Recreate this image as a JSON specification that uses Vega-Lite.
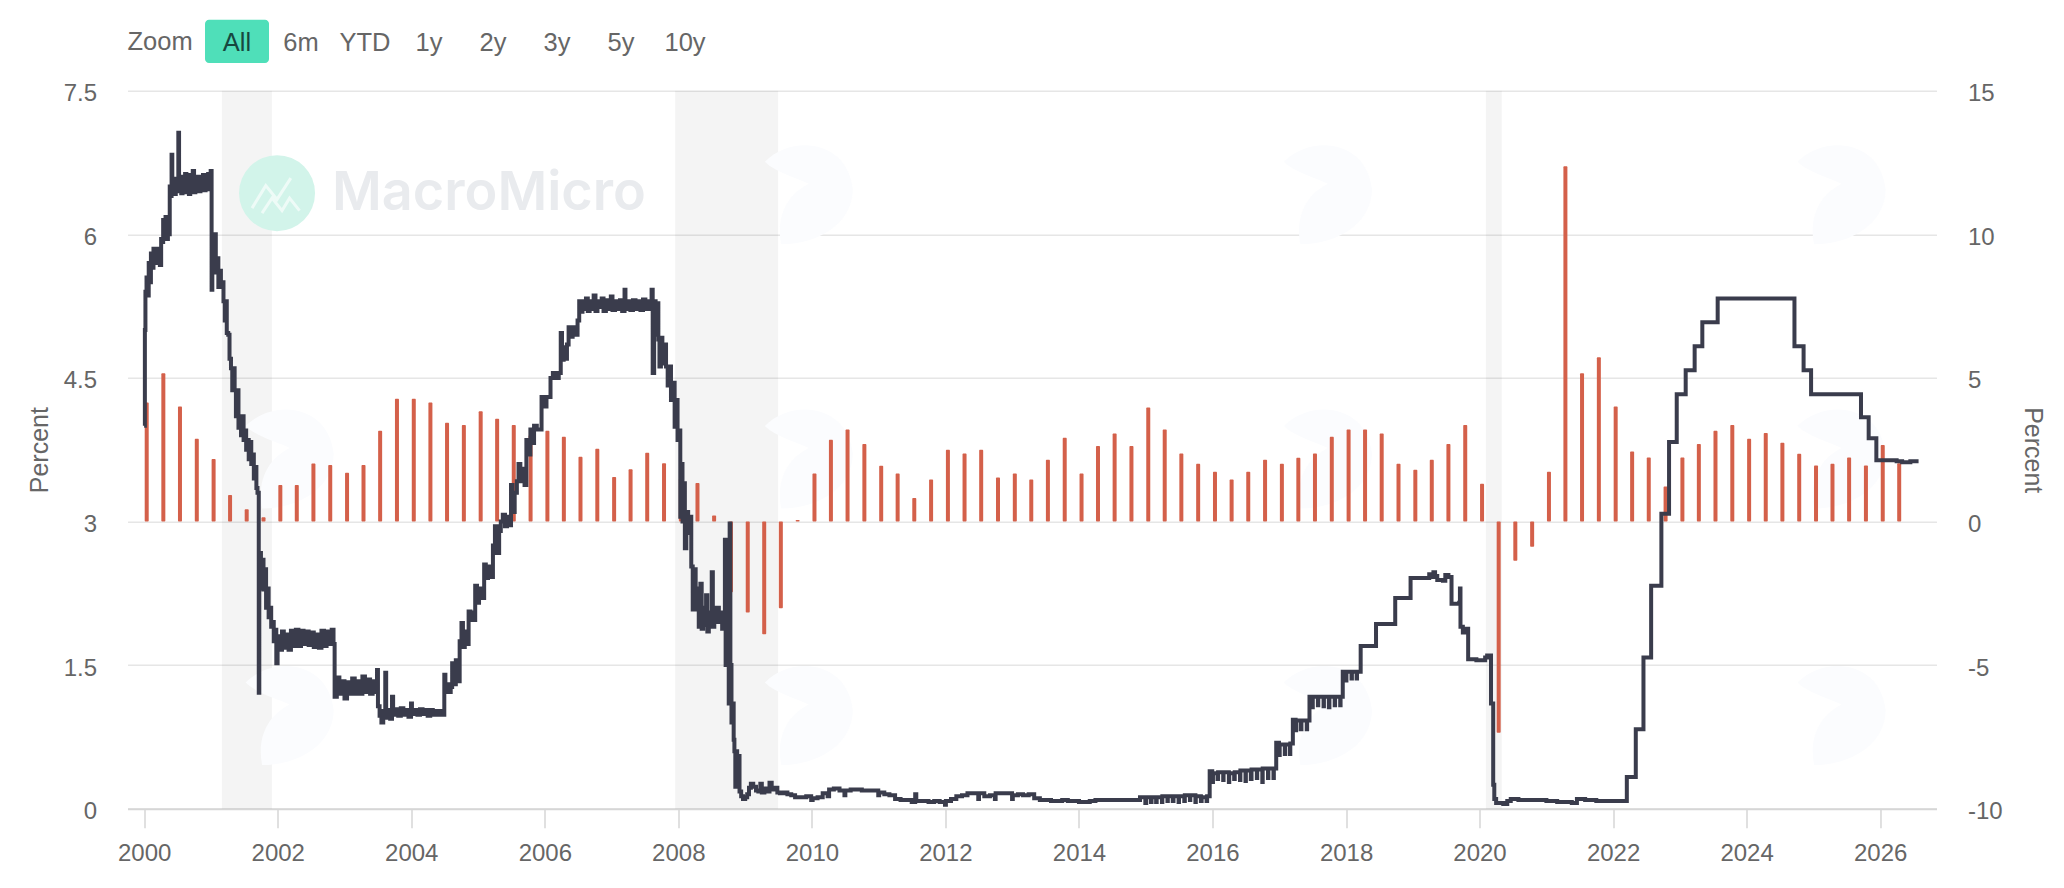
{
  "$schema": "https://vega.github.io/schema/vega-lite/v6.json",
  "width": 1809,
  "height": 718,
  "autosize": {"type": "none"},
  "padding": {"left": 127.5, "top": 90.7, "right": 127.5, "bottom": 79},
  "background": "white",
  "title": {"text": "Zoom", "anchor": "start", "frame": "group", "offset": -36, "fontSize": 25.5, "fontWeight": "normal", "font": "Liberation Sans", "color": "#666666"},
  "config": {"view": {"stroke": null}, "font": "Liberation Sans"},
  "datasets": {
    "recessions": [
      {"start": "2001-03-01", "end": "2001-11-30"},
      {"start": "2007-12-15", "end": "2009-06-30"},
      {"start": "2020-02-05", "end": "2020-05-02"}
    ],
    "blobs": [
      {"d": "2009-11-15", "v": 6.47}, {"d": "2017-08-25", "v": 6.47}, {"d": "2025-05-05", "v": 6.47},
      {"d": "2002-02-05", "v": 3.71}, {"d": "2009-11-15", "v": 3.71}, {"d": "2017-08-25", "v": 3.71}, {"d": "2025-05-05", "v": 3.71},
      {"d": "2002-02-05", "v": 1.03}, {"d": "2009-11-15", "v": 1.03}, {"d": "2017-08-25", "v": 1.03}, {"d": "2025-05-05", "v": 1.03}
    ],
    "logo": [{"d": "2001-12-28", "v": 6.43, "name": "MacroMicro"}],
    "wordmark": [{"d": "2002-10-25", "v": 6.42, "name": "MacroMicro"}],
    "ranges": [
      {"label": "All", "selected": true}, {"label": "6m", "selected": false}, {"label": "YTD", "selected": false},
      {"label": "1y", "selected": false}, {"label": "2y", "selected": false}, {"label": "3y", "selected": false},
      {"label": "5y", "selected": false}, {"label": "10y", "selected": false}
    ],
    "growth": [
      {"q":"2000-01-15","g":4.14},{"q":"2000-04-15","g":5.16},{"q":"2000-07-15","g":4.0},{"q":"2000-10-15","g":2.88},
      {"q":"2001-01-15","g":2.18},{"q":"2001-04-15","g":0.92},{"q":"2001-07-15","g":0.43},{"q":"2001-10-15","g":0.15},
      {"q":"2002-01-15","g":1.27},{"q":"2002-04-15","g":1.27},{"q":"2002-07-15","g":2.02},{"q":"2002-10-15","g":1.97},
      {"q":"2003-01-15","g":1.7},{"q":"2003-04-15","g":1.97},{"q":"2003-07-15","g":3.16},{"q":"2003-10-15","g":4.27},
      {"q":"2004-01-15","g":4.27},{"q":"2004-04-15","g":4.14},{"q":"2004-07-15","g":3.44},{"q":"2004-10-15","g":3.36},
      {"q":"2005-01-15","g":3.84},{"q":"2005-04-15","g":3.58},{"q":"2005-07-15","g":3.36},{"q":"2005-10-15","g":3.0},
      {"q":"2006-01-15","g":3.16},{"q":"2006-04-15","g":2.95},{"q":"2006-07-15","g":2.25},{"q":"2006-10-15","g":2.53},
      {"q":"2007-01-15","g":1.55},{"q":"2007-04-15","g":1.82},{"q":"2007-07-15","g":2.39},{"q":"2007-10-15","g":2.03},
      {"q":"2008-01-15","g":1.5},{"q":"2008-04-15","g":1.34},{"q":"2008-07-15","g":0.21},{"q":"2008-10-15","g":-2.46},
      {"q":"2009-01-15","g":-3.17},{"q":"2009-04-15","g":-3.93},{"q":"2009-07-15","g":-3.02},{"q":"2009-10-15","g":0.05},
      {"q":"2010-01-15","g":1.67},{"q":"2010-04-15","g":2.85},{"q":"2010-07-15","g":3.2},{"q":"2010-10-15","g":2.7},
      {"q":"2011-01-15","g":1.94},{"q":"2011-04-15","g":1.67},{"q":"2011-07-15","g":0.82},{"q":"2011-10-15","g":1.46},
      {"q":"2012-01-15","g":2.5},{"q":"2012-04-15","g":2.37},{"q":"2012-07-15","g":2.5},{"q":"2012-10-15","g":1.53},
      {"q":"2013-01-15","g":1.67},{"q":"2013-04-15","g":1.46},{"q":"2013-07-15","g":2.15},{"q":"2013-10-15","g":2.92},
      {"q":"2014-01-15","g":1.67},{"q":"2014-04-15","g":2.63},{"q":"2014-07-15","g":3.06},{"q":"2014-10-15","g":2.63},
      {"q":"2015-01-15","g":3.97},{"q":"2015-04-15","g":3.2},{"q":"2015-07-15","g":2.37},{"q":"2015-10-15","g":2.01},
      {"q":"2016-01-15","g":1.73},{"q":"2016-04-15","g":1.46},{"q":"2016-07-15","g":1.73},{"q":"2016-10-15","g":2.15},
      {"q":"2017-01-15","g":2.01},{"q":"2017-04-15","g":2.22},{"q":"2017-07-15","g":2.37},{"q":"2017-10-15","g":2.95},
      {"q":"2018-01-15","g":3.2},{"q":"2018-04-15","g":3.2},{"q":"2018-07-15","g":3.06},{"q":"2018-10-15","g":2.01},
      {"q":"2019-01-15","g":1.8},{"q":"2019-04-15","g":2.15},{"q":"2019-07-15","g":2.7},{"q":"2019-10-15","g":3.36},
      {"q":"2020-01-15","g":1.31},{"q":"2020-04-15","g":-7.36},{"q":"2020-07-15","g":-1.37},{"q":"2020-10-15","g":-0.88},
      {"q":"2021-01-15","g":1.73},{"q":"2021-04-15","g":12.37},{"q":"2021-07-15","g":5.16},{"q":"2021-10-15","g":5.72},
      {"q":"2022-01-15","g":4.0},{"q":"2022-04-15","g":2.44},{"q":"2022-07-15","g":2.23},{"q":"2022-10-15","g":1.22},
      {"q":"2023-01-15","g":2.23},{"q":"2023-04-15","g":2.7},{"q":"2023-07-15","g":3.16},{"q":"2023-10-15","g":3.36},
      {"q":"2024-01-15","g":2.88},{"q":"2024-04-15","g":3.08},{"q":"2024-07-15","g":2.74},{"q":"2024-10-15","g":2.36},
      {"q":"2025-01-15","g":1.95},{"q":"2025-04-15","g":2.01},{"q":"2025-07-15","g":2.23},{"q":"2025-10-15","g":1.95},
      {"q":"2026-01-15","g":2.66},{"q":"2026-04-15","g":2.03}
    ],
    "rate": [
      {"d":"2000-01-01","r":4.0},{"d":"2000-01-05","r":5.0},{"d":"2000-01-08","r":5.4},{"d":"2000-01-14","r":5.55},{"d":"2000-01-20","r":5.36},{"d":"2000-01-26","r":5.7},
      {"d":"2000-02-01","r":5.5},{"d":"2000-02-07","r":5.8},{"d":"2000-02-14","r":5.65},{"d":"2000-02-21","r":5.85},{"d":"2000-02-28","r":5.7},{"d":"2000-03-06","r":5.85},{"d":"2000-03-13","r":5.72},{"d":"2000-03-20","r":5.8},{"d":"2000-03-27","r":5.68},
      {"d":"2000-04-03","r":5.95},{"d":"2000-04-08","r":5.92},{"d":"2000-04-14","r":6.15},{"d":"2000-04-20","r":5.95},{"d":"2000-04-27","r":6.18},{"d":"2000-05-04","r":5.95},{"d":"2000-05-10","r":6.15},{"d":"2000-05-14","r":6.0},
      {"d":"2000-05-20","r":6.5},{"d":"2000-05-25","r":6.4},{"d":"2000-05-30","r":6.83},{"d":"2000-06-03","r":6.45},{"d":"2000-06-10","r":6.55},{"d":"2000-06-15","r":6.42},{"d":"2000-06-22","r":6.58},{"d":"2000-06-28","r":6.45},
      {"d":"2000-07-06","r":7.06},{"d":"2000-07-10","r":6.45},{"d":"2000-07-16","r":6.58},{"d":"2000-07-22","r":6.43},{"d":"2000-07-29","r":6.6},{"d":"2000-08-05","r":6.44},{"d":"2000-08-12","r":6.63},{"d":"2000-08-19","r":6.46},{"d":"2000-08-26","r":6.57},
      {"d":"2000-09-02","r":6.42},{"d":"2000-09-09","r":6.62},{"d":"2000-09-16","r":6.45},{"d":"2000-09-23","r":6.66},{"d":"2000-09-30","r":6.44},{"d":"2000-10-07","r":6.56},{"d":"2000-10-14","r":6.47},{"d":"2000-10-21","r":6.6},{"d":"2000-10-28","r":6.45},
      {"d":"2000-11-04","r":6.58},{"d":"2000-11-11","r":6.48},{"d":"2000-11-18","r":6.62},{"d":"2000-11-25","r":6.46},{"d":"2000-12-02","r":6.55},{"d":"2000-12-09","r":6.48},{"d":"2000-12-16","r":6.63},{"d":"2000-12-23","r":6.47},{"d":"2000-12-30","r":6.66},
      {"d":"2001-01-04","r":5.42},{"d":"2001-01-08","r":6.0},{"d":"2001-01-14","r":5.75},{"d":"2001-01-20","r":6.0},{"d":"2001-01-27","r":5.6},{"d":"2001-02-03","r":5.75},{"d":"2001-02-10","r":5.45},{"d":"2001-02-17","r":5.62},{"d":"2001-02-24","r":5.45},
      {"d":"2001-03-03","r":5.5},{"d":"2001-03-10","r":5.3},{"d":"2001-03-17","r":5.1},{"d":"2001-03-24","r":5.3},{"d":"2001-03-28","r":4.97},{"d":"2001-04-05","r":4.95},{"d":"2001-04-12","r":4.7},{"d":"2001-04-20","r":4.6},{"d":"2001-04-27","r":4.37},
      {"d":"2001-05-03","r":4.6},{"d":"2001-05-10","r":4.37},{"d":"2001-05-17","r":4.1},{"d":"2001-05-24","r":4.37},{"d":"2001-05-31","r":3.98},{"d":"2001-06-07","r":4.1},{"d":"2001-06-14","r":3.9},{"d":"2001-06-21","r":4.1},{"d":"2001-06-28","r":3.85},
      {"d":"2001-07-05","r":3.95},{"d":"2001-07-12","r":3.75},{"d":"2001-07-19","r":3.85},{"d":"2001-07-26","r":3.65},{"d":"2001-08-02","r":3.83},{"d":"2001-08-09","r":3.6},{"d":"2001-08-16","r":3.7},{"d":"2001-08-23","r":3.45},{"d":"2001-08-30","r":3.57},
      {"d":"2001-09-06","r":3.35},{"d":"2001-09-12","r":3.3},{"d":"2001-09-19","r":1.21},{"d":"2001-09-22","r":2.67},{"d":"2001-10-01","r":2.3},{"d":"2001-10-08","r":2.6},{"d":"2001-10-15","r":2.29},{"d":"2001-10-22","r":2.5},{"d":"2001-10-29","r":2.1},
      {"d":"2001-11-05","r":2.3},{"d":"2001-11-12","r":2.0},{"d":"2001-11-19","r":2.1},{"d":"2001-11-26","r":1.9},{"d":"2001-12-03","r":1.95},{"d":"2001-12-10","r":1.75},{"d":"2001-12-17","r":1.87},{"d":"2001-12-24","r":1.52},{"d":"2001-12-31","r":1.8},
      {"d":"2002-01-10","r":1.66},{"d":"2002-01-24","r":1.85},{"d":"2002-02-03","r":1.68},{"d":"2002-02-17","r":1.82},{"d":"2002-03-01","r":1.66},{"d":"2002-03-14","r":1.86},{"d":"2002-03-28","r":1.7},{"d":"2002-04-10","r":1.87},{"d":"2002-04-24","r":1.7},
      {"d":"2002-05-08","r":1.86},{"d":"2002-05-22","r":1.72},{"d":"2002-06-05","r":1.85},{"d":"2002-06-19","r":1.71},{"d":"2002-07-03","r":1.84},{"d":"2002-07-17","r":1.69},{"d":"2002-07-31","r":1.82},{"d":"2002-08-14","r":1.68},{"d":"2002-08-28","r":1.86},
      {"d":"2002-09-11","r":1.7},{"d":"2002-09-25","r":1.85},{"d":"2002-10-09","r":1.72},{"d":"2002-10-23","r":1.87},{"d":"2002-11-02","r":1.72},
      {"d":"2002-11-08","r":1.17},{"d":"2002-11-20","r":1.37},{"d":"2002-12-04","r":1.2},{"d":"2002-12-18","r":1.33},{"d":"2003-01-01","r":1.15},{"d":"2003-01-15","r":1.32},{"d":"2003-01-29","r":1.2},{"d":"2003-02-12","r":1.36},{"d":"2003-02-26","r":1.2},
      {"d":"2003-03-12","r":1.33},{"d":"2003-03-26","r":1.2},{"d":"2003-04-09","r":1.38},{"d":"2003-04-23","r":1.22},{"d":"2003-05-07","r":1.35},{"d":"2003-05-21","r":1.2},{"d":"2003-06-04","r":1.33},{"d":"2003-06-18","r":1.22},{"d":"2003-06-28","r":1.45},
      {"d":"2003-07-03","r":1.07},{"d":"2003-07-12","r":0.97},{"d":"2003-07-22","r":0.9},{"d":"2003-08-01","r":1.02},{"d":"2003-08-12","r":1.42},{"d":"2003-08-17","r":0.95},{"d":"2003-08-28","r":1.03},{"d":"2003-09-08","r":0.94},{"d":"2003-09-18","r":1.17},{"d":"2003-09-24","r":0.98},
      {"d":"2003-10-08","r":1.04},{"d":"2003-10-22","r":0.97},{"d":"2003-11-05","r":1.05},{"d":"2003-11-19","r":0.98},{"d":"2003-12-03","r":1.03},{"d":"2003-12-17","r":0.96},{"d":"2003-12-31","r":1.1},{"d":"2004-01-05","r":0.99},{"d":"2004-01-20","r":1.03},
      {"d":"2004-02-04","r":0.98},{"d":"2004-02-18","r":1.04},{"d":"2004-03-03","r":0.99},{"d":"2004-03-17","r":1.03},{"d":"2004-03-31","r":0.97},{"d":"2004-04-14","r":1.03},{"d":"2004-04-28","r":0.98},{"d":"2004-05-12","r":1.02},{"d":"2004-05-26","r":0.98},{"d":"2004-06-09","r":1.02},{"d":"2004-06-23","r":0.98},
      {"d":"2004-06-30","r":1.4},{"d":"2004-07-06","r":1.22},{"d":"2004-07-15","r":1.3},{"d":"2004-07-28","r":1.22},{"d":"2004-08-04","r":1.27},{"d":"2004-08-12","r":1.52},{"d":"2004-08-22","r":1.3},{"d":"2004-09-01","r":1.55},{"d":"2004-09-12","r":1.33},{"d":"2004-09-22","r":1.75},
      {"d":"2004-10-02","r":1.94},{"d":"2004-10-10","r":1.69},{"d":"2004-10-20","r":1.85},{"d":"2004-10-30","r":1.72},{"d":"2004-11-10","r":2.06},{"d":"2004-11-20","r":1.97},{"d":"2004-12-01","r":2.05},{"d":"2004-12-08","r":1.97},{"d":"2004-12-16","r":2.33},{"d":"2004-12-26","r":2.15},
      {"d":"2005-01-06","r":2.3},{"d":"2005-01-18","r":2.2},{"d":"2005-02-03","r":2.55},{"d":"2005-02-12","r":2.41},{"d":"2005-02-24","r":2.53},{"d":"2005-03-05","r":2.42},{"d":"2005-03-23","r":2.75},{"d":"2005-04-03","r":2.95},{"d":"2005-04-14","r":2.67},{"d":"2005-04-26","r":2.9},
      {"d":"2005-05-05","r":3.0},{"d":"2005-05-16","r":3.07},{"d":"2005-05-28","r":2.95},{"d":"2005-06-08","r":3.05},{"d":"2005-06-20","r":2.96},{"d":"2005-06-30","r":3.38},{"d":"2005-07-08","r":3.1},{"d":"2005-07-20","r":3.3},{"d":"2005-08-01","r":3.42},{"d":"2005-08-10","r":3.6},{"d":"2005-08-20","r":3.42},
      {"d":"2005-09-01","r":3.55},{"d":"2005-09-12","r":3.38},{"d":"2005-09-22","r":3.85},{"d":"2005-10-02","r":3.7},{"d":"2005-10-14","r":3.96},{"d":"2005-10-25","r":3.82},{"d":"2005-11-03","r":4.0},{"d":"2005-11-18","r":3.96},{"d":"2005-12-14","r":4.3},{"d":"2005-12-30","r":4.2},
      {"d":"2006-01-10","r":4.3},{"d":"2006-02-01","r":4.5},{"d":"2006-02-14","r":4.55},{"d":"2006-03-01","r":4.5},{"d":"2006-03-18","r":4.55},{"d":"2006-03-29","r":4.97},{"d":"2006-04-05","r":4.69},{"d":"2006-04-14","r":4.82},{"d":"2006-04-24","r":4.7},{"d":"2006-05-02","r":4.85},
      {"d":"2006-05-11","r":5.03},{"d":"2006-05-22","r":4.93},{"d":"2006-06-02","r":5.03},{"d":"2006-06-14","r":4.95},{"d":"2006-06-29","r":5.1},{"d":"2006-07-08","r":5.3},{"d":"2006-07-16","r":5.19},{"d":"2006-07-26","r":5.3},{"d":"2006-08-04","r":5.22},{"d":"2006-08-14","r":5.33},{"d":"2006-08-24","r":5.2},
      {"d":"2006-09-03","r":5.3},{"d":"2006-09-14","r":5.22},{"d":"2006-09-25","r":5.36},{"d":"2006-10-05","r":5.2},{"d":"2006-10-16","r":5.3},{"d":"2006-10-27","r":5.24},{"d":"2006-11-08","r":5.33},{"d":"2006-11-18","r":5.2},{"d":"2006-12-01","r":5.31},{"d":"2006-12-12","r":5.22},{"d":"2006-12-28","r":5.35},
      {"d":"2007-01-06","r":5.21},{"d":"2007-01-20","r":5.3},{"d":"2007-02-02","r":5.22},{"d":"2007-02-16","r":5.31},{"d":"2007-02-28","r":5.2},{"d":"2007-03-13","r":5.42},{"d":"2007-03-18","r":5.22},{"d":"2007-04-01","r":5.3},{"d":"2007-04-14","r":5.21},{"d":"2007-04-28","r":5.31},
      {"d":"2007-05-12","r":5.22},{"d":"2007-05-26","r":5.3},{"d":"2007-06-08","r":5.21},{"d":"2007-06-22","r":5.32},{"d":"2007-07-05","r":5.22},{"d":"2007-07-19","r":5.3},{"d":"2007-08-01","r":5.22},{"d":"2007-08-08","r":5.42},
      {"d":"2007-08-14","r":4.55},{"d":"2007-08-22","r":5.3},{"d":"2007-08-30","r":4.95},{"d":"2007-09-07","r":5.28},{"d":"2007-09-14","r":4.9},{"d":"2007-09-20","r":4.62},{"d":"2007-09-28","r":4.92},{"d":"2007-10-06","r":4.65},{"d":"2007-10-16","r":4.85},{"d":"2007-10-26","r":4.62},
      {"d":"2007-11-04","r":4.42},{"d":"2007-11-12","r":4.62},{"d":"2007-11-22","r":4.27},{"d":"2007-12-02","r":4.45},{"d":"2007-12-12","r":3.99},{"d":"2007-12-20","r":4.27},{"d":"2007-12-28","r":3.85},
      {"d":"2008-01-05","r":3.95},{"d":"2008-01-12","r":3.05},{"d":"2008-01-18","r":3.6},{"d":"2008-01-24","r":3.0},{"d":"2008-01-31","r":3.4},{"d":"2008-02-06","r":2.72},{"d":"2008-02-14","r":3.1},{"d":"2008-02-24","r":2.88},{"d":"2008-03-03","r":3.05},{"d":"2008-03-12","r":2.53},
      {"d":"2008-03-20","r":2.08},{"d":"2008-03-28","r":2.5},{"d":"2008-04-05","r":2.08},{"d":"2008-04-13","r":2.3},{"d":"2008-04-22","r":1.9},{"d":"2008-05-01","r":2.35},{"d":"2008-05-08","r":1.88},{"d":"2008-05-16","r":2.1},{"d":"2008-05-24","r":1.92},{"d":"2008-06-01","r":2.23},{"d":"2008-06-08","r":1.85},{"d":"2008-06-16","r":2.05},
      {"d":"2008-06-24","r":1.9},{"d":"2008-07-02","r":2.47},{"d":"2008-07-08","r":1.9},{"d":"2008-07-16","r":2.1},{"d":"2008-07-24","r":1.95},{"d":"2008-08-01","r":2.1},{"d":"2008-08-10","r":1.95},{"d":"2008-08-20","r":2.05},{"d":"2008-08-28","r":1.88},
      {"d":"2008-09-05","r":2.05},{"d":"2008-09-12","r":2.81},{"d":"2008-09-16","r":1.5},{"d":"2008-09-22","r":2.2},{"d":"2008-09-28","r":2.0},{"d":"2008-10-03","r":1.1},{"d":"2008-10-08","r":2.98},{"d":"2008-10-12","r":1.5},{"d":"2008-10-18","r":0.9},{"d":"2008-10-24","r":1.1},{"d":"2008-10-30","r":0.72},
      {"d":"2008-11-03","r":0.6},{"d":"2008-11-08","r":0.23},{"d":"2008-11-12","r":0.6},{"d":"2008-11-18","r":0.25},{"d":"2008-11-24","r":0.55},{"d":"2008-12-01","r":0.18},{"d":"2008-12-10","r":0.13},{"d":"2008-12-20","r":0.1},{"d":"2009-01-01","r":0.12},{"d":"2009-01-12","r":0.15},
      {"d":"2009-01-22","r":0.22},{"d":"2009-02-01","r":0.26},{"d":"2009-02-14","r":0.23},{"d":"2009-03-01","r":0.19},{"d":"2009-03-14","r":0.18},{"d":"2009-03-25","r":0.26},{"d":"2009-04-02","r":0.17},{"d":"2009-04-16","r":0.21},{"d":"2009-05-01","r":0.18},{"d":"2009-05-14","r":0.27},{"d":"2009-05-26","r":0.2},{"d":"2009-06-10","r":0.22},{"d":"2009-06-26","r":0.17},
      {"d":"2009-07-10","r":0.16},{"d":"2009-08-01","r":0.17},{"d":"2009-08-20","r":0.15},{"d":"2009-09-10","r":0.14},{"d":"2009-10-01","r":0.12},{"d":"2009-11-01","r":0.12},{"d":"2009-12-01","r":0.13},{"d":"2009-12-28","r":0.09},
      {"d":"2010-01-05","r":0.11},{"d":"2010-02-01","r":0.12},{"d":"2010-03-01","r":0.16},{"d":"2010-03-28","r":0.13},{"d":"2010-04-05","r":0.2},{"d":"2010-05-01","r":0.21},{"d":"2010-06-01","r":0.19},{"d":"2010-06-28","r":0.14},{"d":"2010-07-03","r":0.19},{"d":"2010-08-01","r":0.2},{"d":"2010-09-01","r":0.2},{"d":"2010-10-01","r":0.19},{"d":"2010-11-01","r":0.19},{"d":"2010-12-01","r":0.19},{"d":"2010-12-30","r":0.14},
      {"d":"2011-01-04","r":0.17},{"d":"2011-02-01","r":0.15},{"d":"2011-03-01","r":0.14},{"d":"2011-04-01","r":0.1},{"d":"2011-05-01","r":0.09},{"d":"2011-06-01","r":0.09},{"d":"2011-07-01","r":0.07},{"d":"2011-07-20","r":0.15},{"d":"2011-07-26","r":0.08},{"d":"2011-09-01","r":0.08},{"d":"2011-10-01","r":0.07},{"d":"2011-11-01","r":0.08},{"d":"2011-12-01","r":0.07},{"d":"2011-12-30","r":0.04},
      {"d":"2012-01-04","r":0.08},{"d":"2012-02-01","r":0.1},{"d":"2012-03-01","r":0.13},{"d":"2012-04-01","r":0.14},{"d":"2012-05-01","r":0.16},{"d":"2012-06-01","r":0.16},{"d":"2012-06-29","r":0.1},{"d":"2012-07-03","r":0.16},{"d":"2012-08-01","r":0.13},{"d":"2012-09-01","r":0.14},{"d":"2012-09-28","r":0.1},{"d":"2012-10-02","r":0.16},{"d":"2012-11-01","r":0.16},{"d":"2012-12-01","r":0.16},{"d":"2012-12-31","r":0.1},
      {"d":"2013-01-04","r":0.14},{"d":"2013-02-01","r":0.15},{"d":"2013-03-01","r":0.14},{"d":"2013-04-01","r":0.15},{"d":"2013-05-01","r":0.11},{"d":"2013-06-01","r":0.09},{"d":"2013-07-01","r":0.09},{"d":"2013-08-01","r":0.08},{"d":"2013-09-01","r":0.08},{"d":"2013-10-01","r":0.09},{"d":"2013-11-01","r":0.08},{"d":"2013-12-01","r":0.08},
      {"d":"2014-01-01","r":0.07},{"d":"2014-02-01","r":0.07},{"d":"2014-03-01","r":0.08},{"d":"2014-04-01","r":0.09},{"d":"2014-05-01","r":0.09},{"d":"2014-06-01","r":0.09},{"d":"2014-07-01","r":0.09},{"d":"2014-08-01","r":0.09},{"d":"2014-09-01","r":0.09},{"d":"2014-10-01","r":0.09},{"d":"2014-11-01","r":0.09},{"d":"2014-12-01","r":0.12},{"d":"2014-12-30","r":0.06},
      {"d":"2015-01-04","r":0.12},{"d":"2015-01-30","r":0.07},{"d":"2015-02-02","r":0.12},{"d":"2015-02-27","r":0.07},{"d":"2015-03-02","r":0.12},{"d":"2015-03-31","r":0.07},{"d":"2015-04-02","r":0.13},{"d":"2015-04-30","r":0.08},{"d":"2015-05-02","r":0.13},{"d":"2015-05-29","r":0.08},{"d":"2015-06-02","r":0.13},{"d":"2015-06-30","r":0.07},{"d":"2015-07-02","r":0.13},{"d":"2015-07-31","r":0.08},{"d":"2015-08-03","r":0.14},{"d":"2015-08-31","r":0.09},{"d":"2015-09-02","r":0.14},{"d":"2015-09-30","r":0.07},{"d":"2015-10-02","r":0.13},{"d":"2015-10-30","r":0.08},{"d":"2015-11-03","r":0.12},{"d":"2015-11-30","r":0.08},{"d":"2015-12-03","r":0.13},
      {"d":"2015-12-17","r":0.39},{"d":"2015-12-31","r":0.28},{"d":"2016-01-04","r":0.37},{"d":"2016-01-29","r":0.31},{"d":"2016-02-01","r":0.38},{"d":"2016-02-29","r":0.3},{"d":"2016-03-02","r":0.38},{"d":"2016-03-31","r":0.28},{"d":"2016-04-02","r":0.37},{"d":"2016-04-29","r":0.31},{"d":"2016-05-02","r":0.38},{"d":"2016-05-31","r":0.3},{"d":"2016-06-02","r":0.4},{"d":"2016-06-30","r":0.29},{"d":"2016-07-02","r":0.4},{"d":"2016-07-29","r":0.31},{"d":"2016-08-02","r":0.41},{"d":"2016-08-31","r":0.32},{"d":"2016-09-02","r":0.41},{"d":"2016-09-30","r":0.28},{"d":"2016-10-02","r":0.42},{"d":"2016-10-31","r":0.32},{"d":"2016-11-02","r":0.42},{"d":"2016-11-30","r":0.32},{"d":"2016-12-02","r":0.42},
      {"d":"2016-12-15","r":0.69},{"d":"2016-12-30","r":0.56},{"d":"2017-01-03","r":0.67},{"d":"2017-01-31","r":0.57},{"d":"2017-02-02","r":0.67},{"d":"2017-02-28","r":0.57},{"d":"2017-03-02","r":0.68},
      {"d":"2017-03-16","r":0.93},{"d":"2017-03-31","r":0.82},{"d":"2017-04-03","r":0.92},{"d":"2017-04-28","r":0.83},{"d":"2017-05-02","r":0.92},{"d":"2017-05-31","r":0.83},{"d":"2017-06-02","r":0.92},
      {"d":"2017-06-15","r":1.17},{"d":"2017-06-30","r":1.06},{"d":"2017-07-03","r":1.17},{"d":"2017-07-31","r":1.08},{"d":"2017-08-02","r":1.17},{"d":"2017-08-31","r":1.07},{"d":"2017-09-02","r":1.17},{"d":"2017-09-29","r":1.06},{"d":"2017-10-02","r":1.17},{"d":"2017-10-31","r":1.08},{"d":"2017-11-02","r":1.17},{"d":"2017-11-30","r":1.08},{"d":"2017-12-02","r":1.17},
      {"d":"2017-12-14","r":1.43},{"d":"2017-12-29","r":1.34},{"d":"2018-01-03","r":1.43},{"d":"2018-01-31","r":1.36},{"d":"2018-02-02","r":1.43},{"d":"2018-02-28","r":1.36},{"d":"2018-03-02","r":1.43},
      {"d":"2018-03-22","r":1.7},{"d":"2018-06-14","r":1.93},{"d":"2018-09-27","r":2.2},{"d":"2018-12-20","r":2.41},
      {"d":"2019-02-01","r":2.41},{"d":"2019-03-15","r":2.41},{"d":"2019-04-01","r":2.45},{"d":"2019-04-12","r":2.42},{"d":"2019-04-24","r":2.47},{"d":"2019-05-03","r":2.43},{"d":"2019-05-15","r":2.39},{"d":"2019-06-01","r":2.39},{"d":"2019-06-15","r":2.38},{"d":"2019-06-28","r":2.44},{"d":"2019-07-15","r":2.42},
      {"d":"2019-08-01","r":2.14},{"d":"2019-09-12","r":2.15},{"d":"2019-09-16","r":2.3},{"d":"2019-09-19","r":1.9},{"d":"2019-10-02","r":1.84},{"d":"2019-10-12","r":1.88},{"d":"2019-10-31","r":1.56},{"d":"2019-12-15","r":1.55},{"d":"2020-01-15","r":1.55},{"d":"2020-02-01","r":1.58},{"d":"2020-02-12","r":1.6},
      {"d":"2020-03-04","r":1.1},{"d":"2020-03-16","r":0.25},{"d":"2020-03-22","r":0.1},{"d":"2020-04-01","r":0.06},{"d":"2020-05-10","r":0.05},{"d":"2020-06-01","r":0.08},{"d":"2020-06-20","r":0.1},{"d":"2020-08-01","r":0.09},{"d":"2020-10-01","r":0.09},{"d":"2020-11-15","r":0.09},
      {"d":"2021-01-01","r":0.08},{"d":"2021-03-01","r":0.07},{"d":"2021-05-20","r":0.06},{"d":"2021-06-17","r":0.1},{"d":"2021-08-01","r":0.09},{"d":"2021-10-01","r":0.08},{"d":"2022-01-01","r":0.08},
      {"d":"2022-03-17","r":0.33},{"d":"2022-05-05","r":0.83},{"d":"2022-06-16","r":1.58},{"d":"2022-07-28","r":2.33},{"d":"2022-09-22","r":3.08},{"d":"2022-11-03","r":3.83},{"d":"2022-12-15","r":4.33},
      {"d":"2023-02-02","r":4.58},{"d":"2023-03-23","r":4.83},{"d":"2023-05-04","r":5.08},{"d":"2023-07-27","r":5.33},{"d":"2024-09-19","r":4.83},{"d":"2024-11-08","r":4.58},{"d":"2024-12-19","r":4.33},
      {"d":"2025-09-18","r":4.09},{"d":"2025-10-30","r":3.87},{"d":"2025-12-11","r":3.64},{"d":"2026-04-01","r":3.63},{"d":"2026-05-01","r":3.62},{"d":"2026-06-15","r":3.63},{"d":"2026-07-30","r":3.63}
    ]
  },
  "layer": [
    {
      "data": {"name": "recessions"},
      "mark": {"type": "rect", "color": "#000000", "opacity": 0.045},
      "encoding": {
        "x": {"field": "start", "type": "temporal", "axis": null, "scale": {"type": "utc", "domain": ["1999-10-02", "2026-11-05"]}},
        "x2": {"field": "end"}
      }
    },
    {
      "data": {"name": "blobs"},
      "mark": {"type": "point", "filled": true, "opacity": 1, "color": "#fbfcfe", "size": 12100, "shape": "M-0.7,-0.5 C-0.2,-1 0.8,-0.9 0.9,0 C0.9,0.6 0.3,1 -0.4,1 C-0.5,0.5 -0.3,0.1 0.1,-0.1 C-0.1,-0.2 -0.5,-0.3 -0.7,-0.5 Z"},
      "encoding": {
        "x": {"field": "d", "type": "temporal", "axis": null, "scale": {"type": "utc", "domain": ["1999-10-02", "2026-11-05"]}},
        "y": {"field": "v", "type": "quantitative", "axis": null, "scale": {"domain": [0, 7.5]}}
      }
    },
    {
      "data": {"name": "logo"},
      "mark": {"type": "point", "filled": true, "opacity": 1, "color": "#d2f4ea", "size": 5776, "shape": "circle"},
      "encoding": {
        "x": {"field": "d", "type": "temporal", "axis": null, "scale": {"type": "utc", "domain": ["1999-10-02", "2026-11-05"]}},
        "y": {"field": "v", "type": "quantitative", "axis": null, "scale": {"domain": [0, 7.5]}}
      }
    },
    {
      "data": {"name": "logo"},
      "mark": {"type": "point", "filled": false, "opacity": 1, "stroke": "#eefbf7", "strokeWidth": 3, "size": 2500, "shape": "M-1,0.6 L-0.45,-0.3 L0,0.25 L0.55,-0.6 M-0.6,0.8 L-0.2,0.2 L0.2,0.7 L0.5,0.2 L0.9,0.7"},
      "encoding": {
        "x": {"field": "d", "type": "temporal", "axis": null, "scale": {"type": "utc", "domain": ["1999-10-02", "2026-11-05"]}},
        "y": {"field": "v", "type": "quantitative", "axis": null, "scale": {"domain": [0, 7.5]}}
      }
    },
    {
      "data": {"name": "wordmark"},
      "mark": {"type": "text", "align": "left", "baseline": "middle", "font": "Inter", "fontSize": 54, "fontWeight": 600, "color": "#e9ebee"},
      "encoding": {
        "x": {"field": "d", "type": "temporal", "axis": null, "scale": {"type": "utc", "domain": ["1999-10-02", "2026-11-05"]}},
        "y": {"field": "v", "type": "quantitative", "axis": null, "scale": {"domain": [0, 7.5]}},
        "text": {"field": "name"}
      }
    },
    {
      "data": {"name": "growth"},
      "mark": {"type": "bar", "size": 4, "color": "#d4604a", "cornerRadius": 1},
      "encoding": {
        "x": {"field": "q", "type": "temporal", "axis": null, "scale": {"type": "utc", "domain": ["1999-10-02", "2026-11-05"], "padding": 0}},
        "y": {
          "field": "g", "type": "quantitative", "stack": null,
          "scale": {"domain": [-10, 15]},
          "axis": {
            "orient": "right", "values": [-10, -5, 0, 5, 10, 15], "labelExpr": "datum.value + ''", "grid": false, "ticks": false, "domain": false,
            "labelPadding": 31, "labelFontSize": 24, "labelColor": "#666666", "labelFont": "Liberation Sans", "labelOffset": 3, "labelAlign": "left",
            "title": "Percent", "titleFont": "Liberation Sans", "titleFontSize": 25, "titleFontWeight": "normal", "titleColor": "#666666", "titlePadding": 17
          }
        }
      }
    },
    {
      "data": {"name": "rate"},
      "mark": {"type": "line", "interpolate": "step-after", "color": "#3a3c4c", "strokeWidth": 4, "strokeJoin": "miter"},
      "encoding": {
        "x": {
          "field": "d", "type": "temporal",
          "scale": {"type": "utc", "domain": ["1999-10-02", "2026-11-05"]},
          "axis": {
            "title": null, "format": "%Y", "tickCount": {"interval": "year", "step": 2}, "grid": false,
            "domainColor": "#d6d6d6", "domainWidth": 2, "tickColor": "#d6d6d6", "tickWidth": 1.5, "tickSize": 19,
            "labelPadding": 14, "labelFontSize": 24, "labelColor": "#666666", "labelFont": "Liberation Sans", "labelFlush": false
          }
        },
        "y": {
          "field": "r", "type": "quantitative",
          "scale": {"domain": [0, 7.5]},
          "axis": {
            "orient": "left", "values": [0, 1.5, 3, 4.5, 6, 7.5], "labelExpr": "datum.value + ''", "grid": true, "gridColor": "#e6e6e6", "gridWidth": 1.5, "ticks": false, "domain": false,
            "labelPadding": 31, "labelFontSize": 24, "labelColor": "#666666", "labelFont": "Liberation Sans", "labelOffset": 3,
            "title": "Percent", "titleFont": "Liberation Sans", "titleFontSize": 25, "titleFontWeight": "normal", "titleColor": "#666666", "titlePadding": 11
          }
        }
      }
    },
    {
      "data": {"name": "ranges"},
      "transform": [{"filter": "datum.selected"}],
      "mark": {"type": "rect", "color": "#4fdfb9", "cornerRadius": 4},
      "encoding": {
        "x": {"field": "label", "type": "nominal", "axis": null, "sort": null, "scale": {"type": "band", "domain": ["All", "6m", "YTD", "1y", "2y", "3y", "5y", "10y"], "range": [77.5, 589.5], "paddingInner": 0, "paddingOuter": 0}},
        "y": {"datum": 8.24, "type": "quantitative", "axis": null, "scale": {"domain": [0, 7.5]}},
        "y2": {"datum": 7.79}
      }
    },
    {
      "data": {"name": "ranges"},
      "mark": {"type": "text", "font": "Liberation Sans", "fontSize": 25.5, "baseline": "middle"},
      "encoding": {
        "x": {"field": "label", "type": "nominal", "axis": null, "sort": null, "scale": {"type": "band", "domain": ["All", "6m", "YTD", "1y", "2y", "3y", "5y", "10y"], "range": [77.5, 589.5], "paddingInner": 0, "paddingOuter": 0}},
        "y": {"datum": 8.0, "type": "quantitative", "axis": null, "scale": {"domain": [0, 7.5]}},
        "text": {"field": "label"},
        "color": {"condition": {"test": "datum.selected", "value": "#17483f"}, "value": "#666666"}
      }
    }
  ],
  "resolve": {"scale": {"x": "independent", "y": "independent"}}
}
